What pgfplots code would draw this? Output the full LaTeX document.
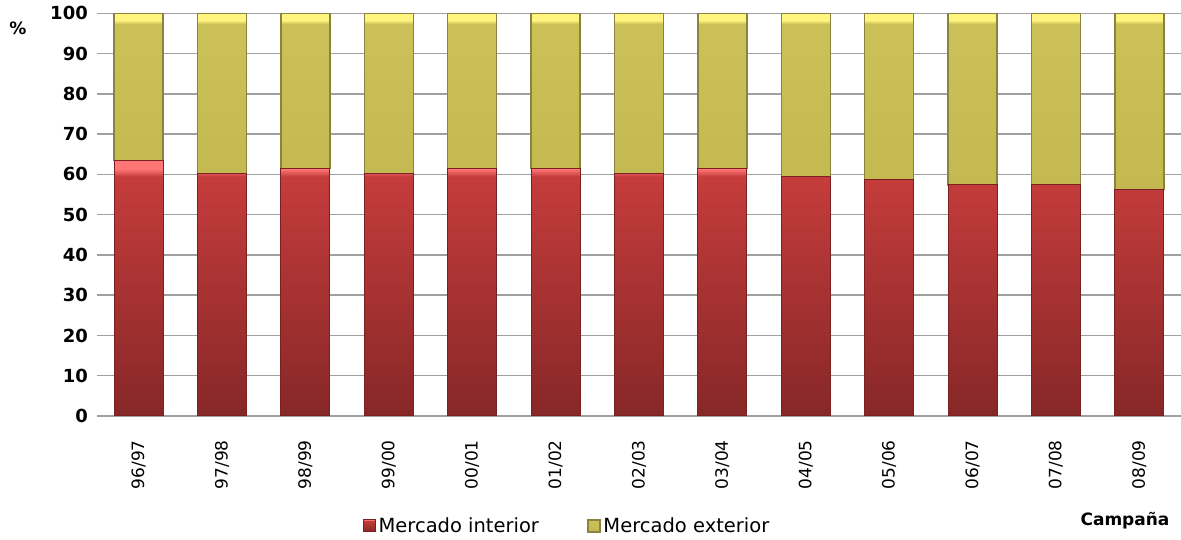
\documentclass[border=0pt]{standalone}
\usepackage{fontspec}
\setmainfont{DejaVu Sans}
\usepackage{pgfplots}
\pgfplotsset{compat=1.18}

\definecolor{gridgray}{HTML}{A0A0A0}
\definecolor{redA}{HTML}{872727}
\definecolor{redB}{HTML}{C53C3C}
\definecolor{redHi}{HTML}{FF7676}
\definecolor{redEdge}{HTML}{7A2020}
\definecolor{yelA}{HTML}{C4B851}
\definecolor{yelB}{HTML}{CCC158}
\definecolor{yelHi}{HTML}{FFF47E}
\definecolor{yelEdge}{HTML}{8A8240}

\pgfdeclareverticalshading{redbar}{100bp}{color(0bp)=(redA); color(25bp)=(redA); color(71.8bp)=(redB); color(73.3bp)=(redHi); color(75bp)=(redHi); color(100bp)=(redHi)}
\pgfdeclareverticalshading{yelbar}{100bp}{color(0bp)=(yelA); color(25bp)=(yelA); color(72bp)=(yelB); color(73bp)=(yelHi); color(75bp)=(yelHi); color(100bp)=(yelHi)}

\begin{document}
\begin{tikzpicture}
\useasboundingbox (0,0) rectangle (1181pt,540pt);
\begin{axis}[
  at={(97pt,124pt)}, anchor=south west,
  scale only axis,
  width=1084pt, height=402.7pt,
  ybar stacked,
  bar width=49pt,
  xmin=-0.5, xmax=12.5,
  ymin=0, ymax=100,
  ytick={0,10,...,100},
  xtick={0,...,12},
  xticklabels={96/97,97/98,98/99,99/00,00/01,01/02,02/03,03/04,04/05,05/06,06/07,07/08,08/09},
  /pgf/number format/assume math mode=true,
  axis line style={draw=none},
  tick style={draw=none},
  major tick length=0pt,
  ymajorgrids,
  grid style={gridgray, line width=1.4pt},
  yticklabel style={font=\fontsize{18}{20}\selectfont\bfseries, anchor=east, inner sep=0pt},
  yticklabel shift=9pt,
  xticklabel style={font=\fontsize{17}{19}\selectfont, rotate=90, anchor=east, inner sep=0pt},
  xticklabel shift=24pt,
  legend columns=2,
  legend style={at={(0.434,-0.273)}, anchor=center, draw=none, fill=none,
    font=\fontsize{19.5}{21}\selectfont,
    /tikz/every even column/.append style={column sep=46pt},
    nodes={inner sep=2.5pt}},
  legend image code/.code={\path[#1] (0pt,-6pt) rectangle (12pt,6pt);},
]
\addplot+[shading=redbar, draw=redEdge, line width=1pt] coordinates {
(0,63.5) (1,60.2) (2,61.4) (3,60.2) (4,61.4) (5,61.4) (6,60.2) (7,61.4) (8,59.5) (9,58.7) (10,57.4) (11,57.4) (12,56.2)};
\addplot+[shading=yelbar, draw=yelEdge, line width=1.5pt] coordinates {
(0,36.5) (1,39.8) (2,38.6) (3,39.8) (4,38.6) (5,38.6) (6,39.8) (7,38.6) (8,40.5) (9,41.3) (10,42.6) (11,42.6) (12,43.8)};
\legend{Mercado interior,Mercado exterior}
\end{axis}
\node[font=\fontsize{17}{19}\selectfont\bfseries] at (18pt,512pt) {\%};
\node[font=\fontsize{17}{19}\selectfont\bfseries] at (1125pt,19pt) {Campaña};
\end{tikzpicture}
\end{document}
